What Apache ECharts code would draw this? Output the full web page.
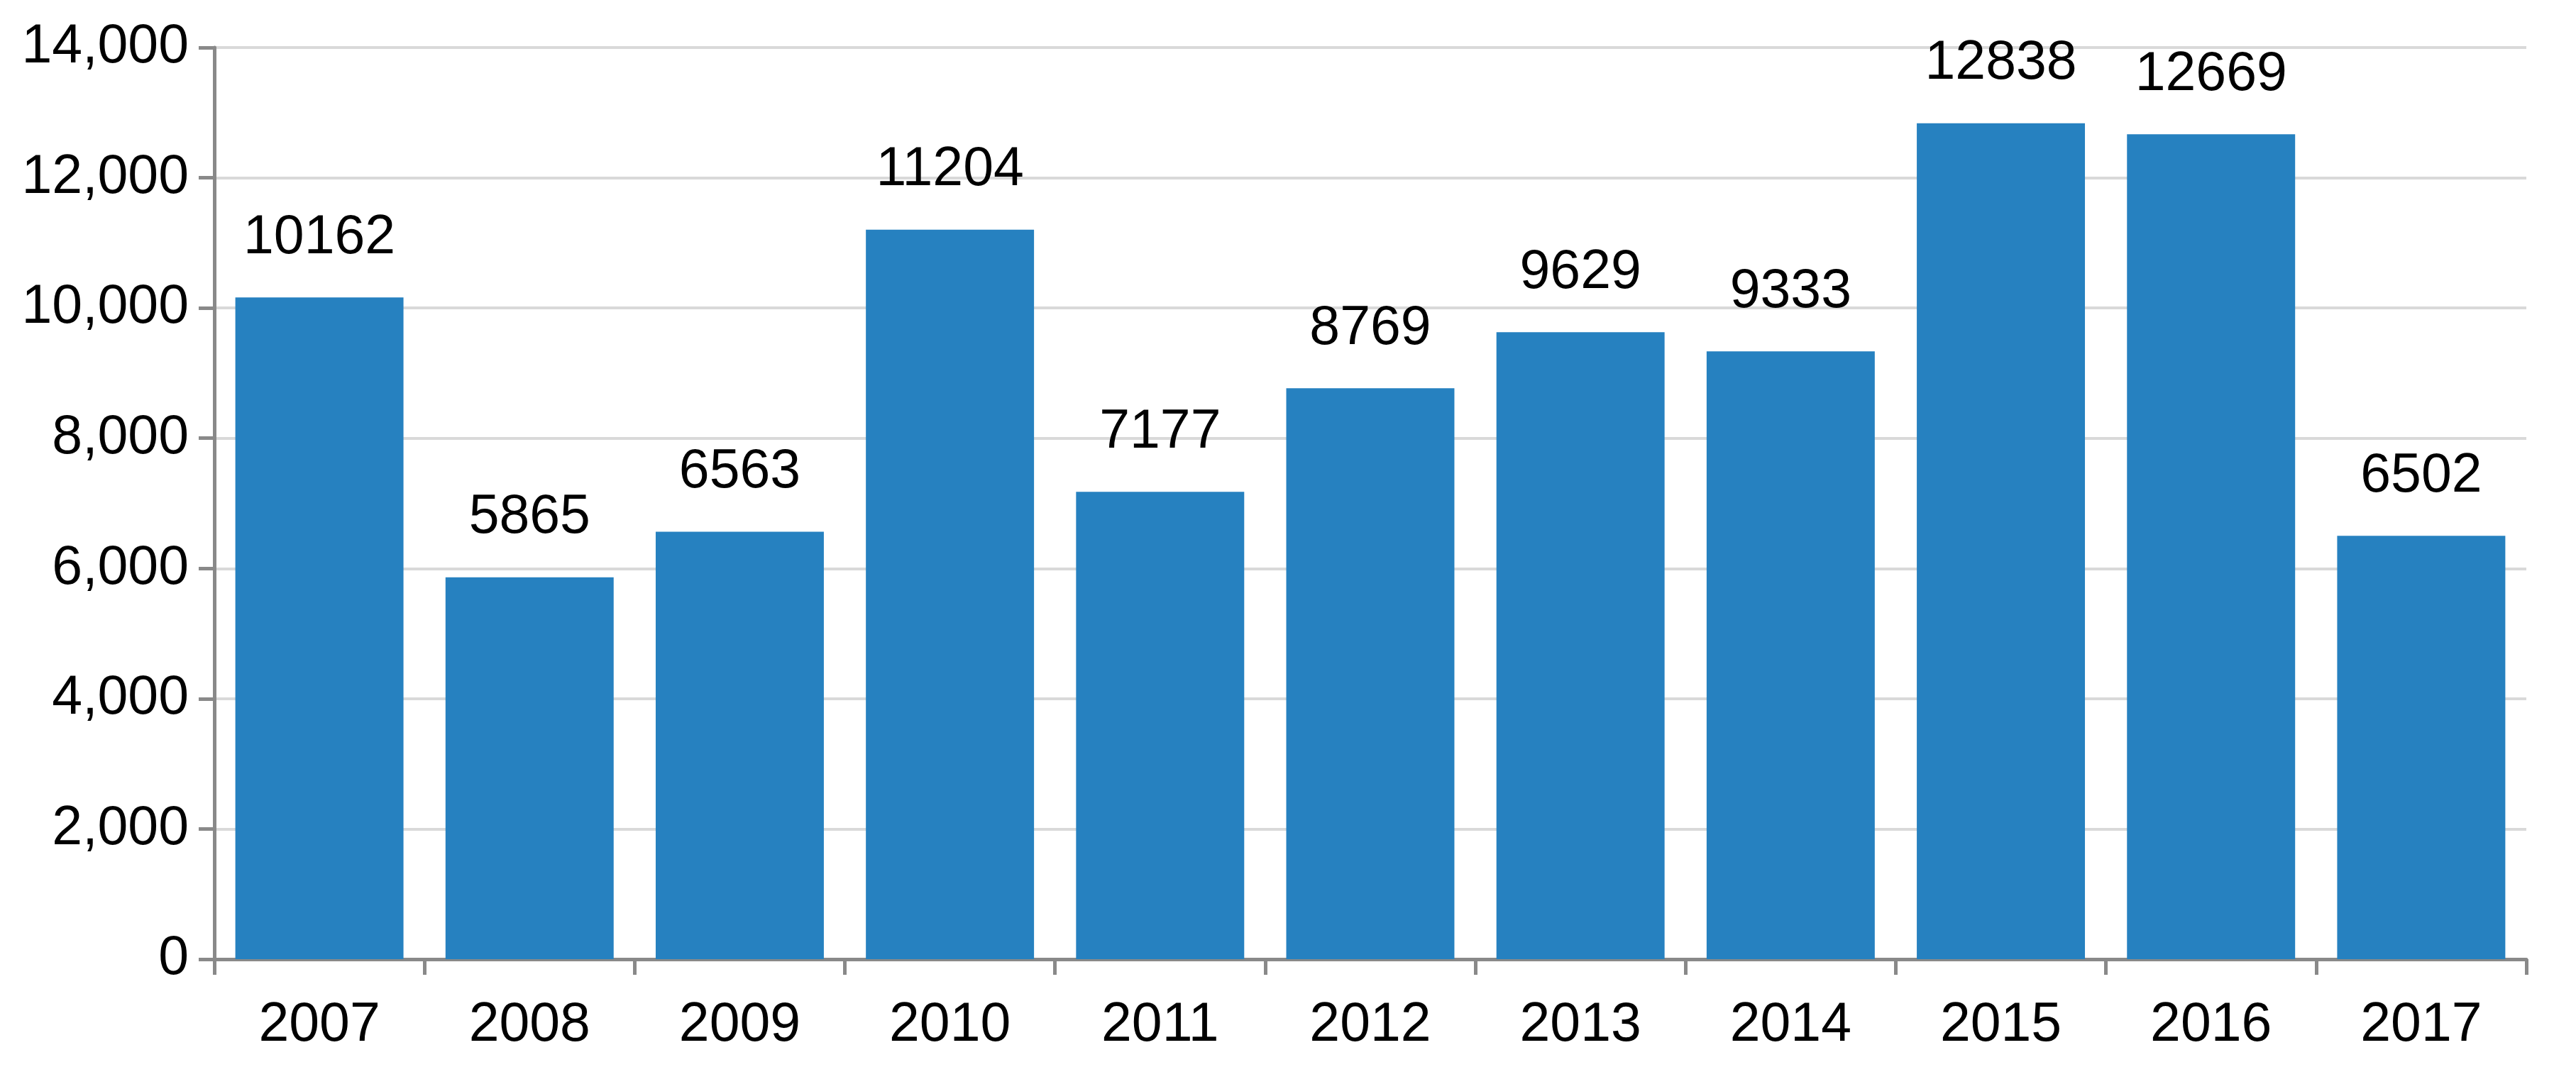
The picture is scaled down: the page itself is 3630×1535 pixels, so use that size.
<!DOCTYPE html>
<html>
<head>
<meta charset="utf-8">
<script src="https://cdn.jsdelivr.net/npm/echarts@6/dist/echarts.min.js"></script>
<style>
  html, body { margin: 0; padding: 0; background: #fff; }
  #chart { width: 3630px; height: 1535px; }
</style>
</head>
<body>
<div id="chart"></div>
<script>
const years = ['2007', '2008', '2009', '2010', '2011', '2012', '2013', '2014', '2015', '2016', '2017'];
const values = [10162, 5865, 6563, 11204, 7177, 8769, 9629, 9333, 12838, 12669, 6502];

var chart = echarts.init(document.getElementById('chart'));
chart.setOption({
  animation: false,
  textStyle: { fontFamily: 'Liberation Sans, Arial, sans-serif' },
  grid: { left: 302, right: 70, top: 67, bottom: 183 },
  xAxis: {
    type: 'category',
    data: years,
    axisLine: { lineStyle: { color: '#898989', width: 5 } },
    axisTick: { show: true, length: 22, lineStyle: { color: '#898989', width: 5 } },
    axisLabel: { color: '#000', fontSize: 77, margin: 55 }
  },
  yAxis: {
    type: 'value',
    min: 0,
    max: 14000,
    interval: 2000,
    axisLine: { show: true, lineStyle: { color: '#898989', width: 5 } },
    axisTick: { show: true, length: 22, lineStyle: { color: '#898989', width: 5 } },
    axisLabel: { color: '#000', fontSize: 77, margin: 36 },
    splitLine: { lineStyle: { color: '#d9d9d9', width: 4 } }
  },
  series: [
    {
      type: 'bar',
      data: values,
      barCategoryGap: '20%',
      itemStyle: { color: '#2681c0' },
      label: {
        show: true,
        position: 'top',
        distance: 45,
        color: '#000',
        fontSize: 77
      }
    }
  ]
});
</script>
</body>
</html>
